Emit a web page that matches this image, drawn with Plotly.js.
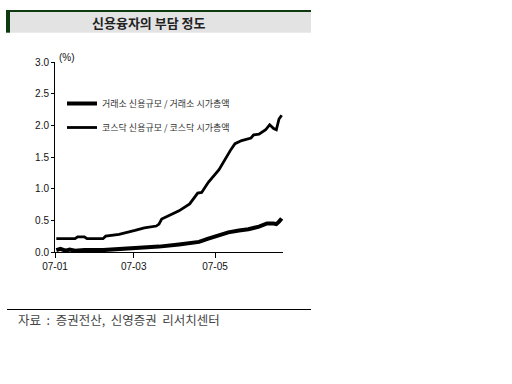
<!DOCTYPE html>
<html>
<head>
<meta charset="utf-8">
<script src="https://cdn.plot.ly/plotly-3.0.1.min.js"></script>
<style>html,body{margin:0;padding:0;background:#fff;}#chart{width:512px;height:384px;}</style>
</head>
<body>
<div id="chart"></div>
<script>
// ---- data ----
const chartTitle = "신용융자의 부담 정도";
const unitLabel = "(%)";
const sourceText = "자료\u00a0\u00a0:\u00a0\u00a0증권전산,\u00a0\u00a0신영증권\u00a0\u00a0리서치센터";
const seriesNames = ["거래소 신용규모 / 거래소 시가총액", "코스닥 신용규모 / 코스닥 시가총액"];

const kseDates = ["2007-01-02","2007-01-05","2007-01-09","2007-01-12","2007-01-16","2007-01-23","2007-02-06","2007-02-18","2007-03-02","2007-03-20","2007-04-04","2007-04-12","2007-04-19","2007-04-26","2007-05-04","2007-05-11","2007-05-19","2007-05-26","2007-06-03","2007-06-09","2007-06-14","2007-06-16","2007-06-18","2007-06-20"];
const kseValues = [0.03,0.05,0.02,0.04,0.02,0.03,0.03,0.045,0.06,0.085,0.12,0.14,0.16,0.21,0.26,0.31,0.34,0.36,0.40,0.45,0.45,0.44,0.48,0.53];

const kosdaqDates = ["2007-01-02","2007-01-16","2007-01-18","2007-01-23","2007-01-25","2007-02-06","2007-02-08","2007-02-18","2007-03-02","2007-03-09","2007-03-18","2007-03-20","2007-03-22","2007-03-28","2007-04-04","2007-04-12","2007-04-15","2007-04-18","2007-04-21","2007-04-26","2007-05-04","2007-05-08","2007-05-13","2007-05-16","2007-05-21","2007-05-28","2007-05-30","2007-06-03","2007-06-08","2007-06-11","2007-06-14","2007-06-16","2007-06-18","2007-06-20"];
const kosdaqValues = [0.21,0.21,0.24,0.24,0.21,0.21,0.25,0.28,0.34,0.38,0.41,0.44,0.52,0.58,0.65,0.76,0.85,0.93,0.94,1.10,1.30,1.45,1.62,1.71,1.76,1.80,1.85,1.86,1.93,2.01,1.95,1.93,2.10,2.16];

const yTickVals = [0, 0.5, 1.0, 1.5, 2.0, 2.5, 3.0];
const yTickText = ["0.0","0.5","1.0","1.5","2.0","2.5","3.0"];
const xTickVals = ["2007-01-01","2007-03-01","2007-05-01"];
const xTickText = ["07-01","07-03","07-05"];

// ---- layout helpers (pixel -> paper) ----
const L = 55, R = 283, T = 62, B = 252, W = 512, H = 384;
const px = p => (p - L) / (R - L);
const py = p => (B - p) / (B - T);

const traces = [
  {x: kseDates, y: kseValues, name: seriesNames[0], type: "scatter", mode: "lines",
   line: {color: "#000", width: 4}, legendgroup: "a"},
  {x: kosdaqDates, y: kosdaqValues, name: seriesNames[1], type: "scatter", mode: "lines",
   line: {color: "#000", width: 2.8}, legendgroup: "b"}
];

const tickFont = {family: "Liberation Sans, Arial, sans-serif", size: 10, color: "#111"};
const kr = "Noto Sans CJK KR, sans-serif";

const layout = {
  width: W, height: H,
  margin: {l: L, r: W - R, t: T, b: H - B, pad: 0},
  paper_bgcolor: "#fff", plot_bgcolor: "#fff",
  showlegend: true,
  legend: {x: px(62), y: py(89), xanchor: "left", yanchor: "top",
           bgcolor: "rgba(0,0,0,0)", font: {family: kr, size: 9, color: "#333"},
           traceorder: "grouped", tracegroupgap: 5},
  xaxis: {type: "date", range: ["2007-01-01", "2007-06-21"],
          tickvals: xTickVals, ticktext: xTickText, ticks: "outside", ticklen: 5,
          tickcolor: "#000", showline: true, linecolor: "#000", linewidth: 1,
          showgrid: false, zeroline: false, tickfont: tickFont, fixedrange: true},
  yaxis: {range: [0, 3], tickvals: yTickVals, ticktext: yTickText, ticks: "outside", ticklen: 3,
          tickcolor: "#000", showline: true, linecolor: "#000", linewidth: 1,
          showgrid: false, zeroline: false, tickfont: tickFont, fixedrange: true},
  shapes: [
    {type: "rect", xref: "paper", yref: "paper", x0: px(10), x1: px(311), y0: py(32.7), y1: py(12),
     fillcolor: "#e3e3e3", line: {width: 0}, layer: "below"},
    {type: "rect", xref: "paper", yref: "paper", x0: px(6), x1: px(311), y0: py(12), y1: py(10),
     fillcolor: "#0d3b0f", line: {width: 0}},
    {type: "rect", xref: "paper", yref: "paper", x0: px(6), x1: px(10), y0: py(32.7), y1: py(10),
     fillcolor: "#0d3b0f", line: {width: 0}},
    {type: "line", xref: "paper", yref: "paper", x0: px(7), x1: px(311), y0: py(309.5), y1: py(309.5),
     line: {color: "#000", width: 1}}
  ],
  annotations: [
    {text: chartTitle, xref: "paper", yref: "paper", x: px(149), y: py(22), xanchor: "center", yanchor: "middle",
     showarrow: false, font: {family: kr, size: 13, color: "#222", weight: "bold"}},
    {text: unitLabel, xref: "paper", yref: "paper", x: px(57), y: py(58), xanchor: "left", yanchor: "middle",
     showarrow: false, font: tickFont},
    {text: sourceText, xref: "paper", yref: "paper", x: px(16), y: py(319), xanchor: "left", yanchor: "middle",
     showarrow: false, font: {family: kr, size: 12.5, color: "#444"}}
  ]
};

Plotly.newPlot("chart", traces, layout, {staticPlot: true, displayModeBar: false});
</script>
</body>
</html>
